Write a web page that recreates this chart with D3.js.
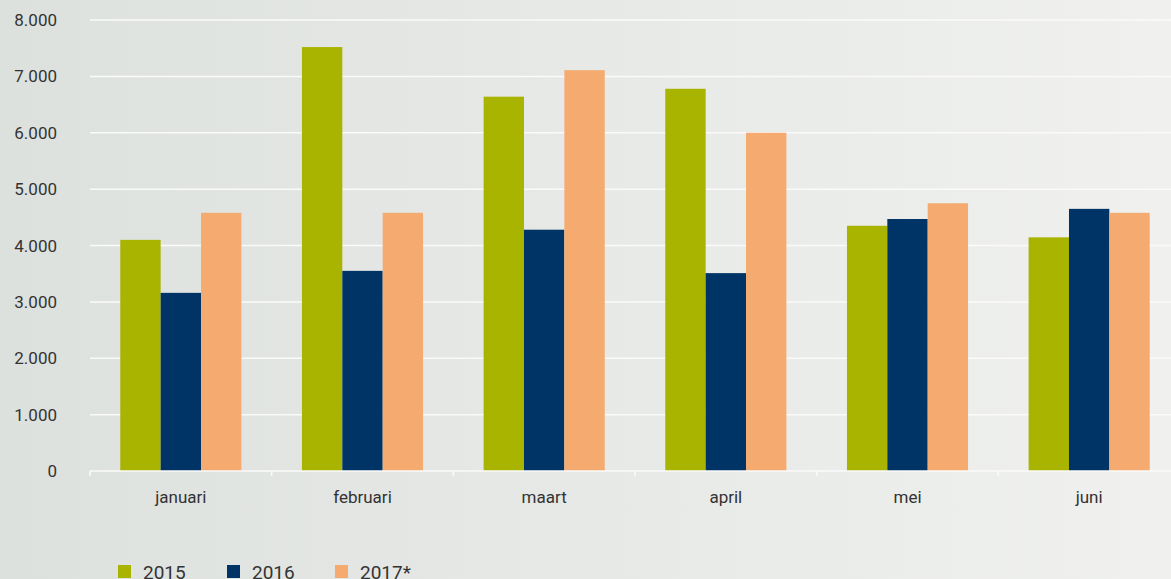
<!DOCTYPE html>
<html>
<head>
<meta charset="utf-8">
<script src="https://cdn.jsdelivr.net/npm/d3@7"></script>
<style>
  body { margin: 0; overflow: hidden; }
  text { font-family: Roboto, "DejaVu Sans", sans-serif; fill: #333; }
</style>
</head>
<body>
<div id="chart"></div>
<script>
const months = ['januari', 'februari', 'maart', 'april', 'mei', 'juni'];
const seriesNames = ['2015', '2016', '2017*'];
const values2015 = [4100, 7520, 6640, 6780, 4350, 4145];
const values2016 = [3160, 3550, 4280, 3510, 4470, 4650];
const values2017 = [4580, 4580, 7110, 6000, 4750, 4580];
const yTicks = [0, 1000, 2000, 3000, 4000, 5000, 6000, 7000, 8000];
const colors = ['#a8b400', '#003366', '#f5ab70'];

const width = 1171, height = 579;
const margin = { top: 20, left: 90, right: -9, bottom: 108 };

const svg = d3.select('#chart').append('svg')
  .attr('width', width)
  .attr('height', height);

// background gradient
const defs = svg.append('defs');
const grad = defs.append('linearGradient').attr('id', 'bg')
  .attr('x1', '0%').attr('x2', '100%').attr('y1', '0%').attr('y2', '0%');
grad.append('stop').attr('offset', '0%').attr('stop-color', '#dde1de');
grad.append('stop').attr('offset', '100%').attr('stop-color', '#f0f1ef');
svg.append('rect').attr('width', width).attr('height', height).attr('fill', 'url(#bg)');

const x0 = d3.scaleBand()
  .domain(months)
  .range([margin.left, width - margin.right])
  .paddingInner(1 / 3)
  .paddingOuter(1 / 6);
const x1 = d3.scaleBand()
  .domain(seriesNames)
  .range([0, x0.bandwidth()]);
const y = d3.scaleLinear()
  .domain([0, 8000])
  .range([height - margin.bottom, margin.top]);

const fmt = d => d3.format(',')(d).replace(/,/g, '.');

// gridlines
svg.append('g')
  .selectAll('line')
  .data(yTicks.slice(1))
  .join('line')
  .attr('x1', margin.left).attr('x2', width)
  .attr('y1', d => y(d)).attr('y2', d => y(d))
  .attr('stroke', '#fafafa').attr('stroke-width', 1.5);

// y labels
svg.append('g')
  .selectAll('text')
  .data(yTicks)
  .join('text')
  .attr('x', 57)
  .attr('y', d => y(d))
  .attr('dy', '0.36em')
  .attr('text-anchor', 'end')
  .style('font-size', '17px')
  .text(fmt);

// bars
const series = [values2015, values2016, values2017];
const rows = months.map((m, i) => ({ month: m, vals: seriesNames.map((s, j) => ({ key: s, value: series[j][i], color: colors[j] })) }));

svg.append('g')
  .selectAll('g')
  .data(rows)
  .join('g')
  .attr('transform', d => 'translate(' + x0(d.month) + ',0)')
  .selectAll('rect')
  .data(d => d.vals)
  .join('rect')
  .attr('x', d => x1(d.key))
  .attr('width', x1.bandwidth())
  .attr('y', d => y(d.value))
  .attr('height', d => y(0) - y(d.value))
  .attr('fill', d => d.color);

// x axis
const step = x0.step();
const xAxis = svg.append('g');
xAxis.append('line')
  .attr('x1', margin.left).attr('x2', width)
  .attr('y1', y(0)).attr('y2', y(0))
  .attr('stroke', '#fafafa').attr('stroke-width', 1.5);
xAxis.selectAll('.tick')
  .data(d3.range(months.length + 1))
  .join('line')
  .attr('x1', i => margin.left + i * step).attr('x2', i => margin.left + i * step)
  .attr('y1', y(0)).attr('y2', y(0) + 5)
  .attr('stroke', '#fafafa').attr('stroke-width', 1.5);
xAxis.selectAll('text')
  .data(months)
  .join('text')
  .attr('x', d => x0(d) + x0.bandwidth() / 2)
  .attr('y', y(0) + 26)
  .attr('dy', '0.36em')
  .attr('text-anchor', 'middle')
  .style('font-size', '17px')
  .text(d => d);

// legend
const legendX = [118, 227, 335];
const legend = svg.append('g')
  .selectAll('g')
  .data(seriesNames)
  .join('g')
  .attr('transform', (d, i) => 'translate(' + legendX[i] + ',565)');
legend.append('rect')
  .attr('width', 13).attr('height', 13)
  .attr('fill', (d, i) => colors[i]);
legend.append('text')
  .attr('x', 25).attr('y', 7)
  .attr('dy', '0.36em')
  .style('font-size', '19px')
  .text(d => d);
</script>
</body>
</html>
